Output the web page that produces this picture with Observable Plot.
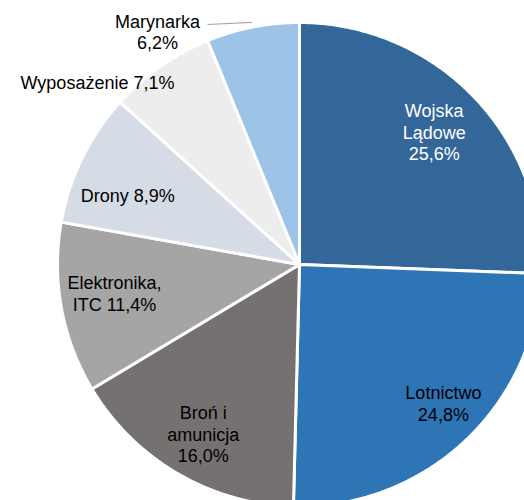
<!DOCTYPE html>
<html>
<head>
<meta charset="utf-8">
<script src="https://cdn.jsdelivr.net/npm/d3@7"></script>
<script src="https://cdn.jsdelivr.net/npm/@observablehq/plot@0.6"></script>
<style>
  html, body { margin: 0; padding: 0; background: #ffffff; }
  #chart svg { display: block; overflow: hidden; }
</style>
</head>
<body>
<div id="chart"></div>
<script>
// ---- data ----
const categories = ["Wojska Lądowe", "Lotnictwo", "Broń i amunicja", "Elektronika, ITC", "Drony", "Wyposażenie", "Marynarka"];
const values = [25.6, 24.8, 16.0, 11.4, 8.9, 7.1, 6.2];
const labelNames = ["Wojska\nLądowe", "Lotnictwo", "Broń i\namunicja", "Elektronika,\nITC", "Drony", "Wyposażenie", "Marynarka"];
const labelSeparators = ["\n", "\n", "\n", " ", " ", " ", "\n"];

// ---- styles / layout ----
const colors = ["#336699", "#2E75B6", "#767171", "#A5A5A5", "#D6DCE5", "#EDEDED", "#9DC3E6"];
const labelColors = ["#ffffff", "#000000", "#000000", "#000000", "#000000", "#000000", "#000000"];
const R = 242;              // radius in px
const CX = 299, CY = 264;   // pie centre in px
const W = 524, H = 500;
const labelRadius = 0.79;
// label adjustments in screen px (dx right, dy down); outside labels given absolutely
const labelOffsets = {
  "Wojska Lądowe": {dx: -3, dy: 0},
  "Lotnictwo": {dx: 13, dy: -1},
  "Broń i amunicja": {dx: 0, dy: 4},
  "Elektronika, ITC": {dx: 3, dy: -6},
  "Drony": {dx: 0, dy: 15}
};
const outsideLabels = {
  "Wyposażenie": {x: 97, y: 82},
  "Marynarka": {x: 157, y: 31, leaderFrom: {x: 207, y: 24}}
};

// ---- geometry through d3.pie ----
const fmt = v => v.toFixed(1).replace(".", ",") + "%";
const arcs = d3.pie().sort(null).value(d => d.value).startAngle(0).endAngle(2 * Math.PI)(
  categories.map((name, i) => ({name, value: values[i], i}))
);

const polar = (a, r) => ({x: r * Math.sin(a), y: r * Math.cos(a)});
const toUnits = (px, py) => ({x: px - CX, y: CY - py});

const polys = [];
for (const a of arcs) {
  const name = a.data.name;
  polys.push({name, ...polar(0, 0)});
  const steps = Math.max(4, Math.ceil((a.endAngle - a.startAngle) / (Math.PI / 360)));
  for (let k = 0; k <= steps; k++) {
    const ang = a.startAngle + (a.endAngle - a.startAngle) * k / steps;
    polys.push({name, ...polar(ang, R)});
  }
}

const labels = arcs.map(a => {
  const name = a.data.name, i = a.data.i;
  const text = labelNames[i] + labelSeparators[i] + fmt(values[i]);
  let p;
  if (outsideLabels[name]) {
    p = toUnits(outsideLabels[name].x, outsideLabels[name].y);
  } else {
    const mid = (a.startAngle + a.endAngle) / 2;
    p = polar(mid, R * labelRadius);
    const o = labelOffsets[name] || {dx: 0, dy: 0};
    p = {x: p.x + o.dx, y: p.y - o.dy};
  }
  return {name, text, x: p.x, y: p.y, color: labelColors[i]};
});

const leaders = arcs.filter(a => outsideLabels[a.data.name] && outsideLabels[a.data.name].leaderFrom).map(a => {
  const o = outsideLabels[a.data.name].leaderFrom;
  const s = toUnits(o.x, o.y);
  const mid = (a.startAngle + a.endAngle) / 2;
  const e = polar(mid, R * 1.02);
  return {x1: s.x, y1: s.y, x2: e.x, y2: e.y};
});

const chart = Plot.plot({
  width: W,
  height: H,
  margin: 0,
  style: {background: "#ffffff", fontFamily: "'Liberation Sans', Arial, sans-serif"},
  x: {domain: [-CX, W - CX], axis: null},
  y: {domain: [CY - H, CY], axis: null},
  color: {domain: categories, range: colors},
  marks: [
    Plot.line(polys, {
      x: "x", y: "y", z: "name", fill: "name",
      stroke: "#ffffff", strokeWidth: 3, strokeLinejoin: "miter",
      curve: "linear-closed", clip: true
    }),
    Plot.link(leaders, {x1: "x1", y1: "y1", x2: "x2", y2: "y2", stroke: "#A6A6A6", strokeWidth: 1.2}),
    Plot.text(labels, {
      x: "x", y: "y", text: "text", fill: "color",
      fontSize: 18, lineHeight: 1.2, textAnchor: "middle",
      fontFamily: "'Liberation Sans', Arial, sans-serif"
    })
  ]
});
document.getElementById("chart").appendChild(chart);
</script>
</body>
</html>
